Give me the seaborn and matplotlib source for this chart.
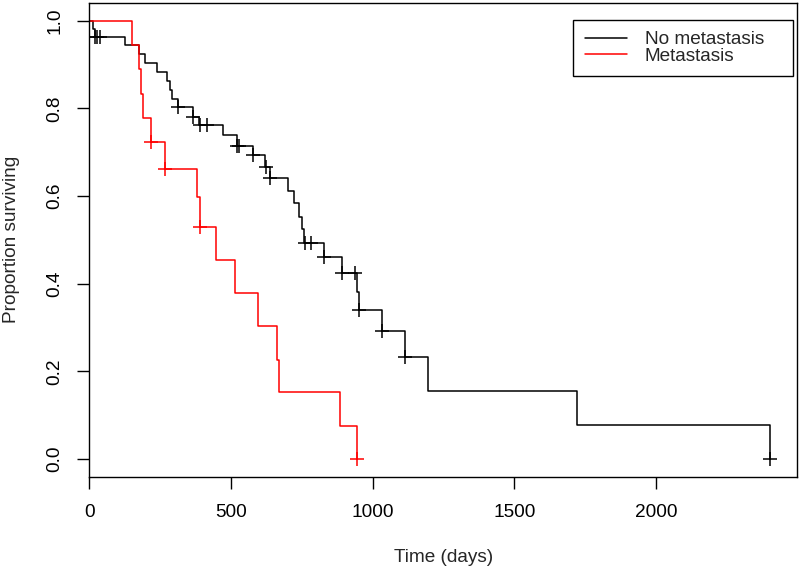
import numpy as np
import pandas as pd
import seaborn as sns
import matplotlib.pyplot as plt

#---------------------

# step times (days) and survival level after each step
no_met_time = [0, 12, 20, 126, 174, 197, 238, 275, 285, 291, 312, 365, 388, 472,
               522, 579, 621, 638, 702, 723, 741, 749, 759, 828, 893, 946, 952,
               1033, 1115, 1196, 1722, 2402]
no_met_surv = [1.0, 0.981, 0.963, 0.944, 0.924, 0.904, 0.883, 0.863, 0.842, 0.822,
               0.802, 0.781, 0.761, 0.739, 0.715, 0.693, 0.667, 0.640, 0.611, 0.583,
               0.553, 0.524, 0.493, 0.461, 0.425, 0.382, 0.340, 0.292, 0.234, 0.156,
               0.078, 0.0]
no_met_censor = [20, 29, 37, 312, 366, 390, 414, 522, 527, 579, 623, 638, 761, 781,
                 828, 893, 938, 952, 1033, 1115, 2402]

met_time = [0, 149, 176, 181, 188, 219, 267, 379, 391, 447, 514, 594, 661, 669, 885, 946]
met_surv = [1.0, 0.944, 0.889, 0.833, 0.778, 0.722, 0.662, 0.598, 0.529, 0.455,
            0.379, 0.303, 0.227, 0.152, 0.076, 0.0]
met_censor = [219, 267, 391, 946]

groups = ['No metastasis', 'Metastasis']
colors = ['black', '#ff0000']

#---------------------

def censor_level(times, surv, censor):
    # survival level of the curve at each censoring time
    idx = np.searchsorted(times, censor, side='right') - 1
    return [surv[i] for i in idx]

sns.set_style('ticks')
plt.rcParams['font.family'] = ['Liberation Sans', 'DejaVu Sans']
FS = 13.7

fig = plt.figure(figsize=(8, 5.7), dpi=100)
ax = fig.add_axes([0.1116, 0.1637, 0.8846, 0.831])

curves = [(no_met_time, no_met_surv, no_met_censor), (met_time, met_surv, met_censor)]
for (t, s, c), name, col in zip(curves, groups, colors):
    df = pd.DataFrame({'time': t, 'surv': s})
    sns.lineplot(data=df, x='time', y='surv', ax=ax, color=col, lw=1.1,
                 drawstyle='steps-post', estimator=None, sort=False, label=name)
    cdf = pd.DataFrame({'time': c, 'surv': censor_level(t, s, c)})
    sns.scatterplot(data=cdf, x='time', y='surv', ax=ax, marker='+', s=90,
                    color=col, linewidth=1.1, legend=False)

ax.set_xlim(0, 2497)
ax.set_ylim(-0.04, 1.04)
ax.set_xticks([0, 500, 1000, 1500, 2000])
ax.set_yticks([0.0, 0.2, 0.4, 0.6, 0.8, 1.0])
ax.set_yticklabels(['0.0', '0.2', '0.4', '0.6', '0.8', '1.0'])
ax.tick_params(axis='both', length=8.5, width=1, labelsize=FS, colors='black')
ax.tick_params(axis='x', pad=11)
ax.tick_params(axis='y', pad=10, labelrotation=90)
for lab in ax.get_yticklabels():
    lab.set_va('center')

for sp in ax.spines.values():
    sp.set_visible(True)
    sp.set_color('black')
    sp.set_linewidth(1.0)

ax.set_xlabel('Time (days)', fontsize=FS, labelpad=20)
ax.set_ylabel('Proportion surviving', fontsize=FS, labelpad=19)

leg = ax.legend(loc='upper left', bbox_to_anchor=(0.684, 0.965, 0.311, 0.0),
                mode='expand', fontsize=FS,
                frameon=True, fancybox=False, framealpha=1, edgecolor='black',
                labelspacing=-0.05, handlelength=2.2, handletextpad=0.95,
                borderpad=0.6, borderaxespad=0)
leg.get_frame().set_linewidth(1.0)

fig.savefig('out.png', dpi=100)
